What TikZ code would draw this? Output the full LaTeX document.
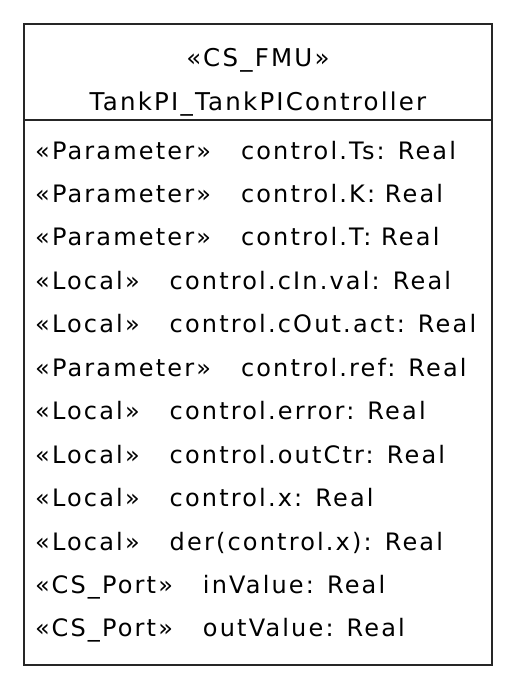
\documentclass[tikz,border=0pt]{standalone}
\usepackage{fontspec}
\setmainfont{DejaVu Sans}[LetterSpace=9]
\usepackage{tikz}
\usetikzlibrary{positioning}

\begin{document}
\begin{tikzpicture}[
  x=1pt, y=-1pt,
  frame/.style={draw=black!85, line width=1.6pt},
  title/.style={anchor=base, font=\fontsize{24.5}{29}\selectfont, inner sep=0pt},
  attr/.style={anchor=base west, font=\fontsize{24}{28}\selectfont, inner sep=0pt}
]
\useasboundingbox (0,0) rectangle (516,688);

% Class box
\node[frame, rectangle, minimum width=468pt, minimum height=641pt, anchor=north west] (box) at (23,23) {};
\draw[frame] (box.west |- 0,120) coordinate (sepl) -- (box.east |- 0,120) coordinate (sepr);

% Header
\node[title] (stereo) at (258,66.5) {«CS\_FMU»};
\node[title] (name) at (258,110) {TankPI\_TankPIController};

% Attributes
\foreach \st/\nm [count=\i] in {
    Parameter/control.Ts: Real,
    Parameter/control.K: Real,
    Parameter/control.T: Real,
    Local/control.cIn.val: Real,
    Local/control.cOut.act: Real,
    Parameter/control.ref: Real,
    Local/control.error: Real,
    Local/control.outCtr: Real,
    Local/control.x: Real,
    Local/der(control.x): Real,
    CS\_Port/inValue: Real,
    CS\_Port/outValue: Real}
  \node[attr] (attr\i) at (35, {159 + (\i-1)*43.45}) {«\st»\hspace{30pt}\nm};

\end{tikzpicture}
\end{document}
